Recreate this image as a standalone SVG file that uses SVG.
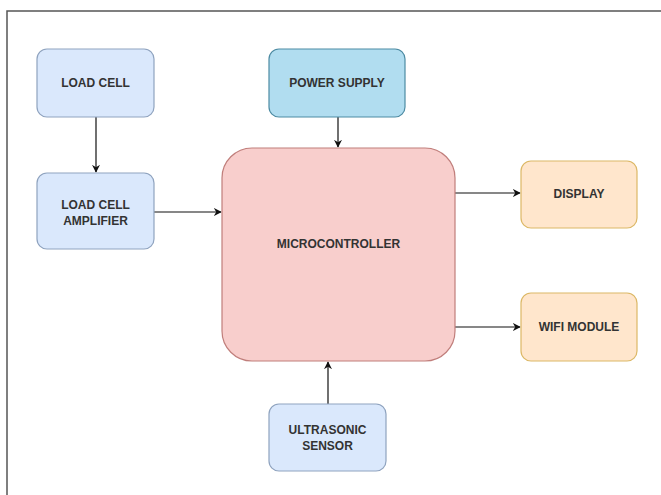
<svg xmlns="http://www.w3.org/2000/svg" width="661" height="495" viewBox="0 0 661 495">
<defs>
<marker id="ah" viewBox="0 0 10 10" refX="9" refY="5" markerWidth="8" markerHeight="8" markerUnits="userSpaceOnUse" orient="auto">
<path d="M0,0 L10,5 L0,10 L3,5 Z" fill="#111"/>
</marker>
<style>
.blue{fill:#dae8fc;stroke:#8fa3bf;stroke-width:1.2}
.ps{fill:#b1ddf0;stroke:#4d8ba3;stroke-width:1.2}
.mc{fill:#f8cecc;stroke:#c07e7b;stroke-width:1.2}
.or{fill:#ffe6cc;stroke:#dcb866;stroke-width:1.2}
.t{font-family:"Liberation Sans",Arial,sans-serif;font-size:12px;font-weight:bold;fill:#333;text-anchor:middle}
.c{stroke:#111;stroke-width:1.2;fill:none;marker-end:url(#ah)}
</style>
</defs>
<rect width="661" height="495" fill="#fff"/>
<path d="M7,495 V11 H661" fill="none" stroke="#555" stroke-width="1.5"/>
<g id="connectors">
<line class="c" x1="96" y1="117" x2="96" y2="172"/>
<line class="c" x1="154" y1="212" x2="221" y2="212"/>
<line class="c" x1="338" y1="117" x2="338" y2="147"/>
<line class="c" x1="455" y1="193" x2="520" y2="193"/>
<line class="c" x1="455" y1="327" x2="520" y2="327"/>
<line class="c" x1="328" y1="404" x2="328" y2="362"/>
</g>
<g id="loadcell"><rect class="blue" x="37" y="49" width="117" height="68" rx="10"/><text class="t" x="95.5" y="87">LOAD CELL</text></g>
<g id="amplifier"><rect class="blue" x="37" y="173" width="117" height="76" rx="10"/><text class="t" x="95.5" y="209">LOAD CELL</text><text class="t" x="95.5" y="225">AMPLIFIER</text></g>
<g id="power"><rect class="ps" x="269" y="49" width="136" height="68" rx="10"/><text class="t" x="337" y="87">POWER SUPPLY</text></g>
<g id="mcu"><rect class="mc" x="222" y="148" width="233" height="213" rx="30"/><text class="t" x="338.5" y="248">MICROCONTROLLER</text></g>
<g id="display"><rect class="or" x="521" y="161" width="116" height="67" rx="10"/><text class="t" x="579" y="198">DISPLAY</text></g>
<g id="wifi"><rect class="or" x="521" y="293" width="116" height="68" rx="10"/><text class="t" x="579" y="331">WIFI MODULE</text></g>
<g id="ultrasonic"><rect class="blue" x="269" y="404" width="117" height="67" rx="10"/><text class="t" x="327.5" y="434">ULTRASONIC</text><text class="t" x="327.5" y="450">SENSOR</text></g>
</svg>
